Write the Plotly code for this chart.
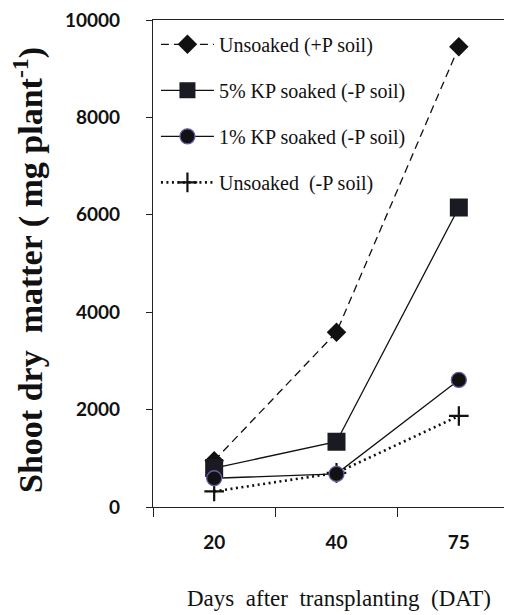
import plotly.graph_objects as go

days = ["20", "40", "75"]
unsoaked_plus_p = [950, 3590, 9450]
kp5_soaked = [800, 1340, 6150]
kp1_soaked = [590, 680, 2610]
unsoaked_minus_p = [320, 700, 1870]
y_ticks = [0, 2000, 4000, 6000, 8000, 10000]
y_tick_text = ["0", "2000", "4000", "6000", "8000", "10000"]

INK = "#111111"
SERIF = "Liberation Serif, Times New Roman, serif"
fig = go.Figure()

fig.add_trace(go.Scatter(
    x=days, y=unsoaked_plus_p, name="Unsoaked (+P soil)", mode="lines+markers",
    line=dict(color=INK, width=1.3, dash="8px,5px"),
    marker=dict(symbol="diamond", size=15, color=INK),
    legendrank=1, legendgroup="a"))
fig.add_trace(go.Scatter(
    x=days, y=kp5_soaked, name="5% KP soaked (-P soil)", mode="lines+markers",
    line=dict(color=INK, width=1.3),
    marker=dict(symbol="square", size=18, color="#1a1a22"),
    legendrank=2, legendgroup="b"))
fig.add_trace(go.Scatter(
    x=days, y=unsoaked_minus_p, name="Unsoaked  (-P soil)", mode="lines+markers",
    line=dict(color=INK, width=2.6, dash="2px,3.5px"),
    marker=dict(symbol="cross-thin", size=14, color=INK, line=dict(color=INK, width=2.2)),
    legendrank=4, legendgroup="d"))
fig.add_trace(go.Scatter(
    x=days, y=kp1_soaked, name="1% KP soaked (-P soil)", mode="lines+markers",
    line=dict(color=INK, width=1.3),
    marker=dict(symbol="circle", size=15, color=INK, line=dict(color="#6a5aa8", width=1.3)),
    legendrank=3, legendgroup="c"))

fig.update_layout(
    width=512, height=615,
    margin=dict(l=145, r=0, t=12, b=116),
    paper_bgcolor="white", plot_bgcolor="white",
    showlegend=True,
    legend=dict(x=0.008, y=0.99, xanchor="left", yanchor="top",
                font=dict(family=SERIF, size=20, color=INK),
                bgcolor="rgba(0,0,0,0)", tracegroupgap=17, itemwidth=53),
    xaxis=dict(type="category", range=[-0.5, 2.5], showgrid=False, zeroline=False,
               showline=True, linecolor="#222", linewidth=1.3, mirror=True,
               ticks="outside", ticklen=9, tickcolor="#222", tickwidth=1.3, tickson="boundaries",
               ticklabelstandoff=18,
               tickfont=dict(family="Lato", size=19, color=INK, weight="bold")),
    yaxis=dict(range=[0, 10000.5], tickvals=y_ticks, ticktext=y_tick_text,
               showgrid=False, zeroline=False,
               showline=True, linecolor="#222", linewidth=1.3,
               ticks="outside", ticklen=6, tickcolor="#222", tickwidth=1.3,
               ticklabelstandoff=22, ticklabeloverflow="allow",
               tickfont=dict(family="Lato", size=19, color=INK, weight="bold")),
    annotations=[
        dict(text="<b>Shoot dry  matter ( mg plant<sup>-1</sup>)</b>", xref="paper", yref="paper",
             x=(28 - 153) / 367, y=(507 - 270) / 487, xanchor="center", yanchor="middle",
             textangle=-90, showarrow=False,
             font=dict(family=SERIF, size=34, color=INK)),
        dict(text="Days  after  transplanting  (DAT)", xref="paper", yref="paper",
             x=(339 - 153) / 367, y=(507 - 598) / 487, xanchor="center", yanchor="middle",
             showarrow=False,
             font=dict(family=SERIF, size=23, color=INK)),
    ],
)

fig.write_html("out.html")
